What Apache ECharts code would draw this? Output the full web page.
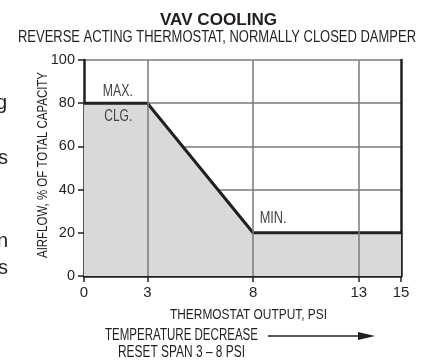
<!DOCTYPE html>
<html>
<head>
<meta charset="utf-8">
<script src="https://cdn.jsdelivr.net/npm/echarts@6/dist/echarts.min.js"></script>
<style>
  html, body { margin: 0; padding: 0; background: #fff; }
  #chart { width: 434px; height: 360px; }
</style>
</head>
<body>
<div id="chart"></div>
<script>
// Thermostat output (psi) vs. airflow (% of total capacity)
const psi = [0, 3, 8, 15];
const airflow = [80, 80, 20, 20];
const xTicks = [0, 3, 8, 13, 15];
const yTicks = [0, 20, 40, 60, 80, 100];

const FAMILY = '"Liberation Sans", Arial, sans-serif';
const INK = '#231f20';
const GRID = '#7a7a7a';

// Condensed-looking text: regular face squeezed horizontally to a given width
const measureCtx = document.createElement('canvas').getContext('2d');
function squeezed(text, font, width, x, y, opts) {
  measureCtx.font = font;
  const natural = measureCtx.measureText(text).width;
  return Object.assign({
    type: 'text', x: x, y: y, z: 100, scaleX: width / natural, silent: true,
    style: { text: text, font: font, fill: INK, align: 'center', verticalAlign: 'middle' }
  }, opts || {});
}

const chart = echarts.init(document.getElementById('chart'));
chart.setOption({
  animation: false,
  backgroundColor: '#fff',
  grid: { left: 84, right: 33, top: 60, bottom: 84, containLabel: false },
  xAxis: {
    type: 'value', min: 0, max: 15,
    axisLine: { show: true, onZero: false, lineStyle: { color: INK, width: 2.5 } },
    axisTick: { show: true, length: 6, customValues: xTicks, lineStyle: { color: INK, width: 1.5 } },
    axisLabel: { customValues: xTicks, margin: 9, fontFamily: FAMILY, fontSize: 15, color: INK },
    splitLine: { show: false }
  },
  yAxis: [{
    type: 'value', min: 0, max: 100, interval: 20,
    axisLine: { show: true, lineStyle: { color: INK, width: 2.5 } },
    axisTick: { show: true, length: 6, lineStyle: { color: INK, width: 1.5 } },
    axisLabel: { margin: 9, fontFamily: FAMILY, fontSize: 14.5, color: INK },
    splitLine: { show: true, lineStyle: { color: GRID, width: 1.5 } }
  }, {
    type: 'value', min: 0, max: 100, position: 'right',
    axisLine: { show: true, lineStyle: { color: INK, width: 2.5 } },
    axisTick: { show: false }, axisLabel: { show: false }, splitLine: { show: false }
  }],
  series: [{
    type: 'line',
    data: psi.map((p, i) => [p, airflow[i]]),
    symbol: 'none',
    z: 1,
    lineStyle: { color: INK, width: 3 },
    areaStyle: { color: '#d9d9d9', opacity: 1 },
    markLine: {
      silent: true, symbol: 'none', label: { show: false },
      lineStyle: { color: GRID, width: 1.5, type: 'solid' },
      data: [{ xAxis: 3 }, { xAxis: 8 }, { xAxis: 13 }]
    }
  }]
});

const small = '15px ' + FAMILY;
const tagFont = '16px ' + FAMILY;
const frag = '20px ' + FAMILY;

// Region labels anchored to data coordinates
const maxPos = chart.convertToPixel({ gridIndex: 0 }, [1.6, 85.2]);
const clgPos = chart.convertToPixel({ gridIndex: 0 }, [1.62, 73.8]);
const minPos = chart.convertToPixel({ gridIndex: 0 }, [8.95, 26.4]);
const tag = (t, w, p) => {
  const g = squeezed(t, tagFont, w, p[0], p[1]);
  g.style.fill = '#444';
  return g;
};

chart.setOption({
  graphic: [
    squeezed('VAV COOLING', 'bold 16px ' + FAMILY, 117, 218.5, 21),
    squeezed('REVERSE ACTING THERMOSTAT, NORMALLY CLOSED DAMPER', '16px ' + FAMILY, 398, 217, 38),
    squeezed('AIRFLOW, % OF TOTAL CAPACITY', '14px ' + FAMILY, 186, 43, 165, { rotation: Math.PI / 2 }),
    squeezed('THERMOSTAT OUTPUT, PSI', small, 157, 248.5, 315),
    squeezed('TEMPERATURE DECREASE', tagFont, 153, 181.5, 335.5),
    squeezed('RESET SPAN 3 – 8 PSI', tagFont, 127, 181.5, 352.5),
    tag('MAX.', 30, maxPos),
    tag('CLG.', 28, clgPos),
    tag('MIN.', 27, minPos),
    { type: 'line', z: 100, shape: { x1: 268, y1: 336, x2: 360, y2: 336 }, style: { stroke: INK, lineWidth: 1.5 } },
    { type: 'polygon', z: 100, shape: { points: [[358, 332], [375, 336], [358, 340]] }, style: { fill: INK } },
    { type: 'text', x: -4, y: 93, style: { text: 'g', font: frag, fill: INK } },
    { type: 'text', x: -2, y: 148, style: { text: 's', font: frag, fill: INK } },
    { type: 'text', x: -3, y: 231, style: { text: 'n', font: frag, fill: INK } },
    { type: 'text', x: -2, y: 258, style: { text: 's', font: frag, fill: INK } }
  ]
});
</script>
</body>
</html>
